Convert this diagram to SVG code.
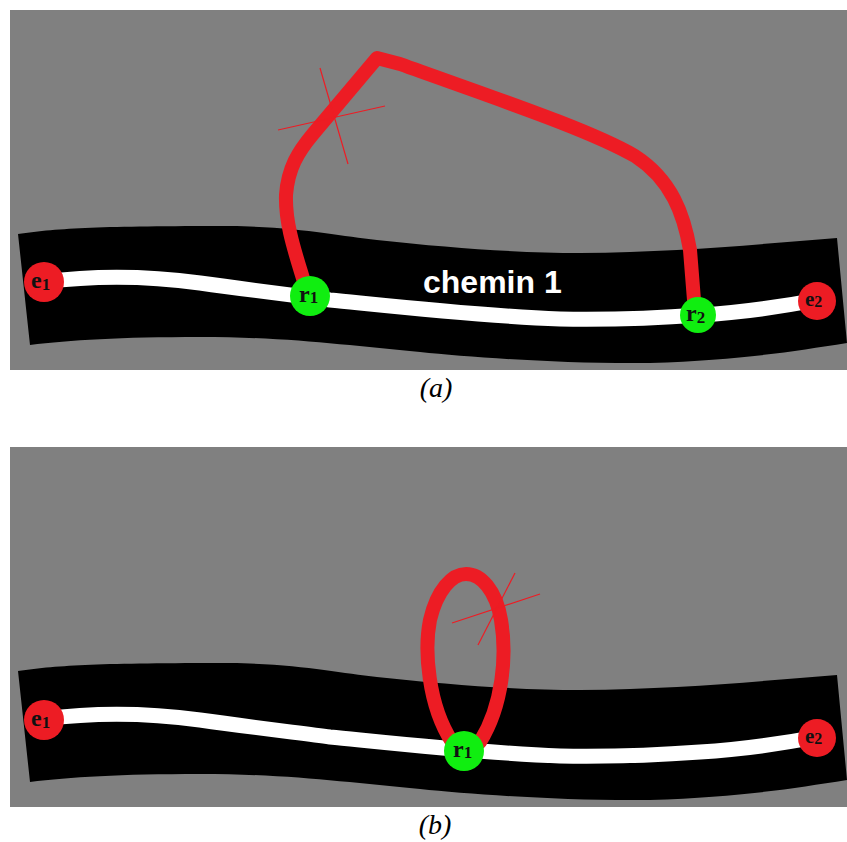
<svg xmlns="http://www.w3.org/2000/svg" width="847" height="842" viewBox="0 0 847 842">
<style>
.bg{fill:#808080}
.road{fill:#000}
.lane{fill:none;stroke:#fff;stroke-width:15}
.path{fill:none;stroke:#ED1C24;stroke-width:14;stroke-linejoin:round;stroke-linecap:round}
.thin{stroke:#ED1C24;stroke-width:1.2}
.red{fill:#ED1C24}
.grn{fill:#10EE10}
.lbl{font-family:"Liberation Serif",serif;font-weight:bold;font-size:24px;fill:#111}
.sub{font-size:17px}
.cap{font-family:"Liberation Serif",serif;font-style:italic;font-size:28px;fill:#000;text-anchor:middle}
.chem{font-family:"Liberation Sans",Arial,sans-serif;font-weight:bold;font-size:32px;fill:#fff}
</style>
<defs>
<g id="roadshape">
<path class="road" d="M 18 234 C 60 228 100 226 230 226 C 300 227 340 236 377 240 C 450 248 520 253 580 253 C 680 252 760 244 837 238 L 847 343 C 790 352 740 360 650 363 C 560 364 470 357 420 352 C 350 346 290 337 200 337 C 120 337 70 340 30 345 Z"/>
<path class="lane" d="M 44 282 C 90 276 140 275 200 283 C 250 290 300 296 330 300 C 400 307 480 316 560 319 C 620 320 660 318 700 315 C 750 312 790 305 817 300"/>
</g>
</defs>
<rect fill="#fff" x="0" y="0" width="847" height="842"/>
<g id="panel-a">
<rect class="bg" x="10" y="10" width="837" height="360"/>
<use href="#roadshape"/>
<text class="chem" x="423" y="293">chemin 1</text>
</g>
<g id="panel-b">
<rect class="bg" x="10" y="447" width="837" height="360"/>
<use href="#roadshape" transform="translate(0,437)"/>
</g>
<g id="connectors">
<path class="path" d="M 305 285 C 296 255 285 225 286 195 C 288 168 298 152 313 134 L 377 58 L 400 64 C 500 100 590 130 635 156 C 672 180 684 215 690 250 L 694 300"/>
<line class="thin" x1="278" y1="130" x2="385" y2="106"/>
<line class="thin" x1="320" y1="68" x2="348" y2="164"/>
<path class="path" d="M 452 742 C 428 705 424 650 430 620 C 437 590 452 574 466 574 C 481 574 496 590 501 620 C 507 655 503 705 480 742"/>
<line class="thin" x1="452" y1="623" x2="540" y2="594"/>
<line class="thin" x1="515" y1="573" x2="478" y2="645"/>
</g>
<g id="node-a-e1"><circle class="red" cx="44" cy="282" r="20"/><text class="lbl" x="31" y="288">e<tspan class="sub" dy="2">1</tspan></text></g>
<g id="node-a-r1"><circle class="grn" cx="310" cy="296" r="20"/><text class="lbl" x="299" y="302">r<tspan class="sub" dy="1">1</tspan></text></g>
<g id="node-a-r2"><circle class="grn" cx="698" cy="315" r="18"/><text class="lbl" x="686" y="321">r<tspan class="sub" dy="2">2</tspan></text></g>
<g id="node-a-e2"><circle class="red" cx="817" cy="301" r="19"/><text class="lbl" x="805" y="306" style="font-size:21px">e<tspan class="sub" style="font-size:16px" dy="1">2</tspan></text></g>
<g id="node-b-e1"><circle class="red" cx="44" cy="720" r="20"/><text class="lbl" x="31" y="726">e<tspan class="sub" dy="2">1</tspan></text></g>
<g id="node-b-r1"><circle class="grn" cx="464" cy="751" r="20"/><text class="lbl" x="453" y="757">r<tspan class="sub" dy="1">1</tspan></text></g>
<g id="node-b-e2"><circle class="red" cx="817" cy="738" r="19"/><text class="lbl" x="805" y="743" style="font-size:21px">e<tspan class="sub" style="font-size:16px" dy="1">2</tspan></text></g>
<text class="cap" x="436" y="397">(a)</text>
<text class="cap" x="435" y="834">(b)</text>
</svg>
